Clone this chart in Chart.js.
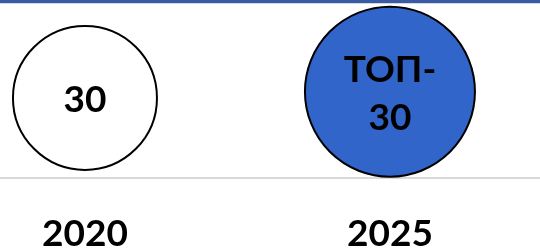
<!DOCTYPE html>
<html>
<head>
<meta charset="utf-8">
<script src="https://cdn.jsdelivr.net/npm/chart.js@4/dist/chart.umd.min.js"></script>
<style>
  body { margin: 0; background: #fff; }
  #wrap { position: relative; width: 540px; height: 250px; }
  #topband { position: absolute; left: 0; top: 0; width: 540px; height: 3px;
             background: #3a5ba3; border-bottom: 1px solid #d3d9e4; }
</style>
</head>
<body>
<div id="wrap">
  <canvas id="myChart" width="540" height="250"></canvas>
  <div id="topband"></div>
</div>
<script>
const years = [2020, 2025];
const levels = [4.5, 4.85];
const sizes = [72, 85];
const texts = [['30'], ['ТОП-', '30']];
const fills = ['#ffffff', '#3265c9'];

const points = years.map(function (y, i) {
  return { x: y, y: levels[i], r: sizes[i] };
});

// writes the text inside each bubble
const bubbleText = {
  id: 'bubbleText',
  afterDatasetsDraw(chart) {
    const ctx = chart.ctx;
    const meta = chart.getDatasetMeta(0);
    ctx.save();
    ctx.font = 'bold 37px Lato';
    ctx.fillStyle = '#000';
    ctx.textAlign = 'center';
    ctx.textBaseline = 'middle';
    meta.data.forEach(function (el, i) {
      const lines = texts[i];
      const lh = 48;
      const y0 = el.y - (lines.length - 1) * lh / 2;
      lines.forEach(function (t, j) {
        ctx.fillText(t, el.x, y0 + j * lh + 2);
      });
    });
    ctx.restore();
  }
};

const config = {
  type: 'bubble',
  data: {
    datasets: [{
      data: points,
      backgroundColor: fills,
      borderColor: '#000',
      borderWidth: 2,
      hoverRadius: 0,
      clip: false
    }]
  },
  options: {
    responsive: false,
    animation: false,
    events: [],
    layout: { autoPadding: false, padding: 0 },
    plugins: {
      legend: { display: false },
      tooltip: { enabled: false }
    },
    scales: {
      x: {
        type: 'linear',
        min: 2018.607,
        max: 2027.46,
        afterBuildTicks: function (axis) {
          axis.ticks = years.map(function (v) { return { value: v }; });
        },
        afterFit: function (axis) {
          axis.height = 72;
        },
        ticks: {
          padding: 34,
          color: '#000',
          font: { family: 'Lato', size: 37, weight: 'bold' },
          callback: function (v) { return String(v); },
          maxRotation: 0,
          autoSkip: false
        },
        grid: { display: false, drawTicks: false },
        border: { display: true, color: '#d9d9d9', width: 2 }
      },
      y: {
        display: false,
        min: 0,
        max: 10
      }
    }
  },
  plugins: [bubbleText]
};

var ctx = document.getElementById('myChart');
var myChart = new Chart(ctx, config);
</script>
</body>
</html>
